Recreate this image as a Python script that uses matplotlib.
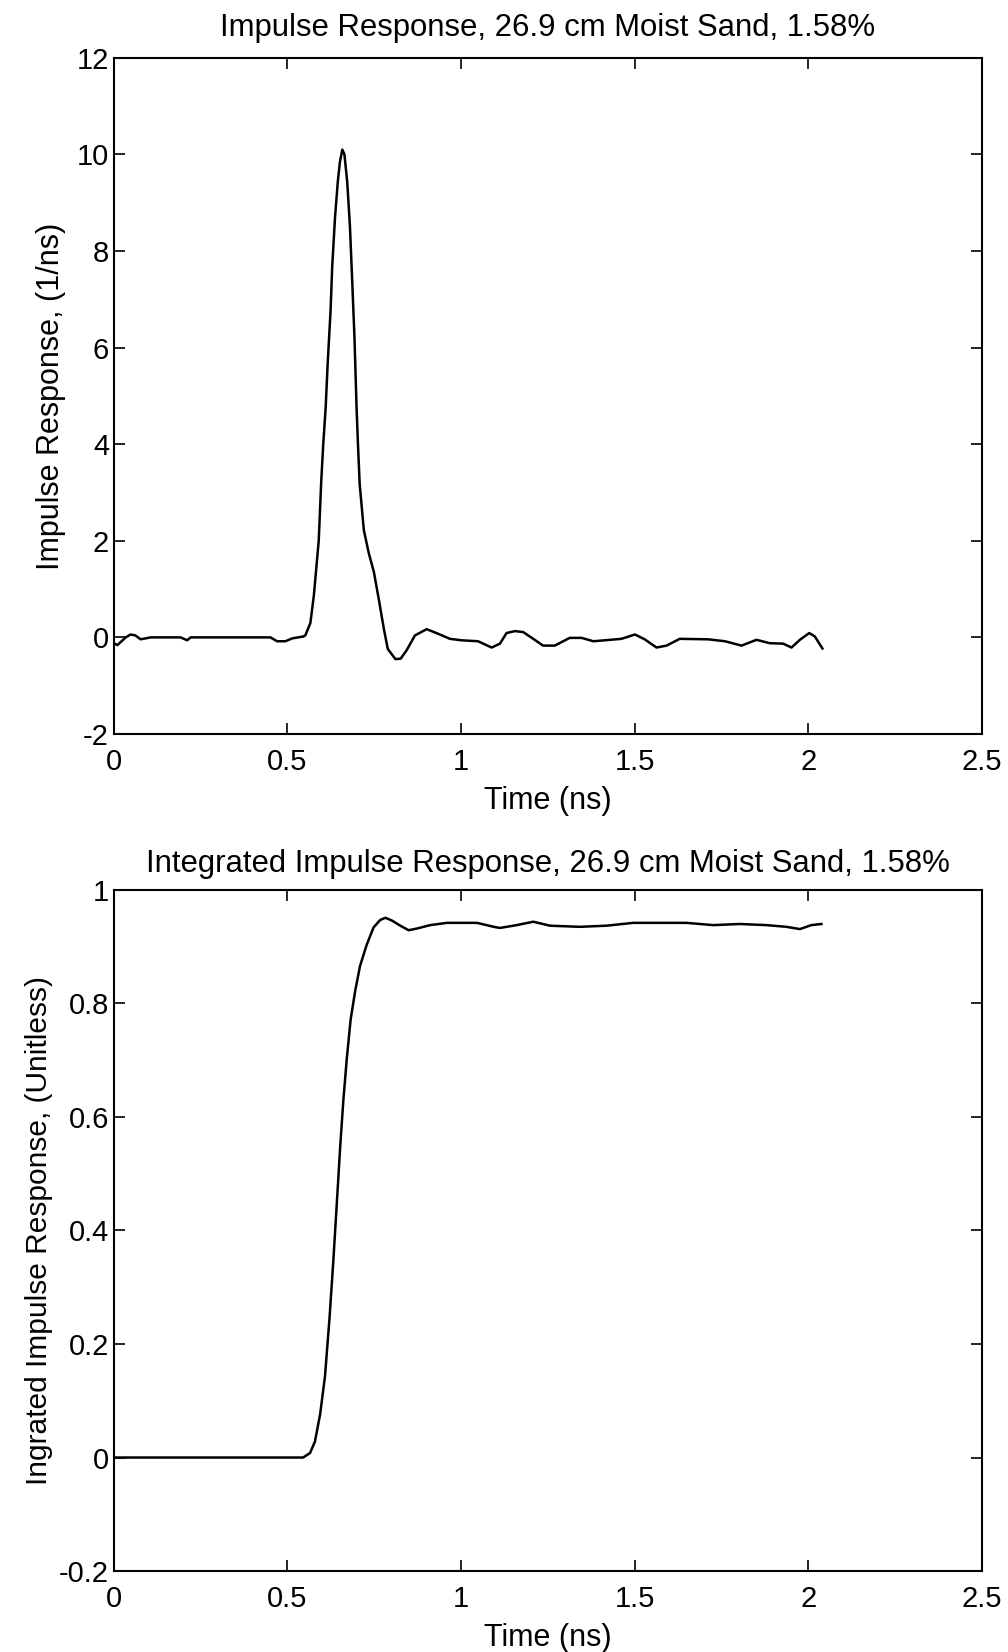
import matplotlib.pyplot as plt

# Top panel: impulse response (ns, 1/ns)
t_imp = [0.0, 0.01, 0.034, 0.048, 0.062, 0.077, 0.106, 0.192, 0.211, 0.221, 0.451, 0.470,
         0.494, 0.514, 0.547, 0.552, 0.566, 0.576, 0.590, 0.597, 0.603, 0.610, 0.616, 0.624,
         0.629, 0.637, 0.645, 0.651, 0.658, 0.664, 0.672, 0.680, 0.686, 0.693, 0.699, 0.703,
         0.708, 0.720, 0.734, 0.749, 0.763, 0.778, 0.789, 0.811, 0.826, 0.843, 0.867, 0.901,
         0.929, 0.968, 1.001, 1.049, 1.088, 1.112, 1.131, 1.155, 1.179, 1.208, 1.236, 1.270,
         1.313, 1.347, 1.381, 1.414, 1.462, 1.501, 1.529, 1.563, 1.592, 1.630, 1.712, 1.760,
         1.808, 1.851, 1.889, 1.928, 1.952, 1.976, 2.003, 2.019, 2.041]
h_imp = [-0.12, -0.16, 0.0, 0.06, 0.04, -0.04, 0.0, 0.0, -0.06, 0.0, 0.0, -0.08,
         -0.08, -0.02, 0.02, 0.05, 0.3, 0.87, 2.0, 3.2, 4.0, 4.76, 5.7, 6.75,
         7.7, 8.7, 9.44, 9.84, 10.1, 10.0, 9.44, 8.5, 7.46, 6.2, 4.76, 4.0,
         3.17, 2.22, 1.75, 1.35, 0.79, 0.16, -0.24, -0.45, -0.44, -0.27, 0.04, 0.17,
         0.09, -0.03, -0.06, -0.08, -0.21, -0.13, 0.09, 0.13, 0.11, -0.03, -0.17, -0.17,
         -0.01, -0.01, -0.08, -0.06, -0.03, 0.06, -0.04, -0.21, -0.17, -0.03, -0.04, -0.08,
         -0.17, -0.05, -0.12, -0.13, -0.21, -0.05, 0.09, 0.02, -0.23]

# Bottom panel: integrated impulse response (unitless)
t_int = [0.0, 0.545, 0.565, 0.579, 0.594, 0.608, 0.621, 0.632, 0.642, 0.652, 0.661, 0.671,
         0.682, 0.695, 0.709, 0.728, 0.748, 0.767, 0.782, 0.801, 0.825, 0.849, 0.873, 0.911,
         0.959, 1.046, 1.094, 1.112, 1.160, 1.208, 1.256, 1.342, 1.419, 1.496, 1.563, 1.649,
         1.726, 1.803, 1.880, 1.937, 1.976, 2.009, 2.038]
s_int = [0.0, 0.0, 0.008, 0.028, 0.076, 0.143, 0.245, 0.346, 0.447, 0.549, 0.63, 0.704,
         0.772, 0.822, 0.866, 0.903, 0.934, 0.947, 0.951, 0.946, 0.937, 0.929, 0.932, 0.938,
         0.942, 0.942, 0.935, 0.933, 0.938, 0.944, 0.937, 0.935, 0.937, 0.942, 0.942, 0.942,
         0.938, 0.940, 0.938, 0.935, 0.931, 0.938, 0.940]

x_ticks = [0, 0.5, 1, 1.5, 2, 2.5]
x_labels = ['0', '0.5', '1', '1.5', '2', '2.5']
y2_ticks = [-0.2, 0, 0.2, 0.4, 0.6, 0.8, 1]
y2_labels = ['-0.2', '0', '0.2', '0.4', '0.6', '0.8', '1']

plt.rcParams['font.family'] = ['Liberation Sans', 'DejaVu Sans']
plt.rcParams['font.size'] = 19
plt.rcParams['axes.unicode_minus'] = False

fig = plt.figure(figsize=(10.08, 16.52), dpi=100)
ax1 = fig.add_axes([0.113, 0.5557, 0.861, 0.4093])
ax2 = fig.add_axes([0.113, 0.049, 0.861, 0.4123])

ax1.plot(t_imp, h_imp, color='black', linewidth=1.8)
ax1.set_xlim(0, 2.5)
ax1.set_ylim(-2, 12)
ax1.set_yticks(range(-2, 13, 2))
ax1.set_title('Impulse Response, 26.9 cm Moist Sand, 1.58%', pad=16, fontsize=22.4)
ax1.set_ylabel('Impulse Response, (1/ns)', fontsize=22, labelpad=8)

ax2.plot(t_int, s_int, color='black', linewidth=1.8)
ax2.set_xlim(0, 2.5)
ax2.set_ylim(-0.2, 1)
ax2.set_yticks(y2_ticks)
ax2.set_yticklabels(y2_labels)
ax2.set_title('Integrated Impulse Response, 26.9 cm Moist Sand, 1.58%', pad=13, fontsize=22.4)
ax2.set_ylabel('Ingrated Impulse Response, (Unitless)', fontsize=21.5, labelpad=4)

for ax in (ax1, ax2):
    ax.set_xticks(x_ticks)
    ax.set_xticklabels(x_labels)
    ax.set_xlabel('Time (ns)', fontsize=22, labelpad=7)
    ax.tick_params(direction='in', length=8, width=1.2, top=True, right=True, labelsize=21)
    ax.tick_params(axis='x', pad=10)
    for sp in ax.spines.values():
        sp.set_linewidth(1.5)

plt.savefig('out.png', dpi=100)
